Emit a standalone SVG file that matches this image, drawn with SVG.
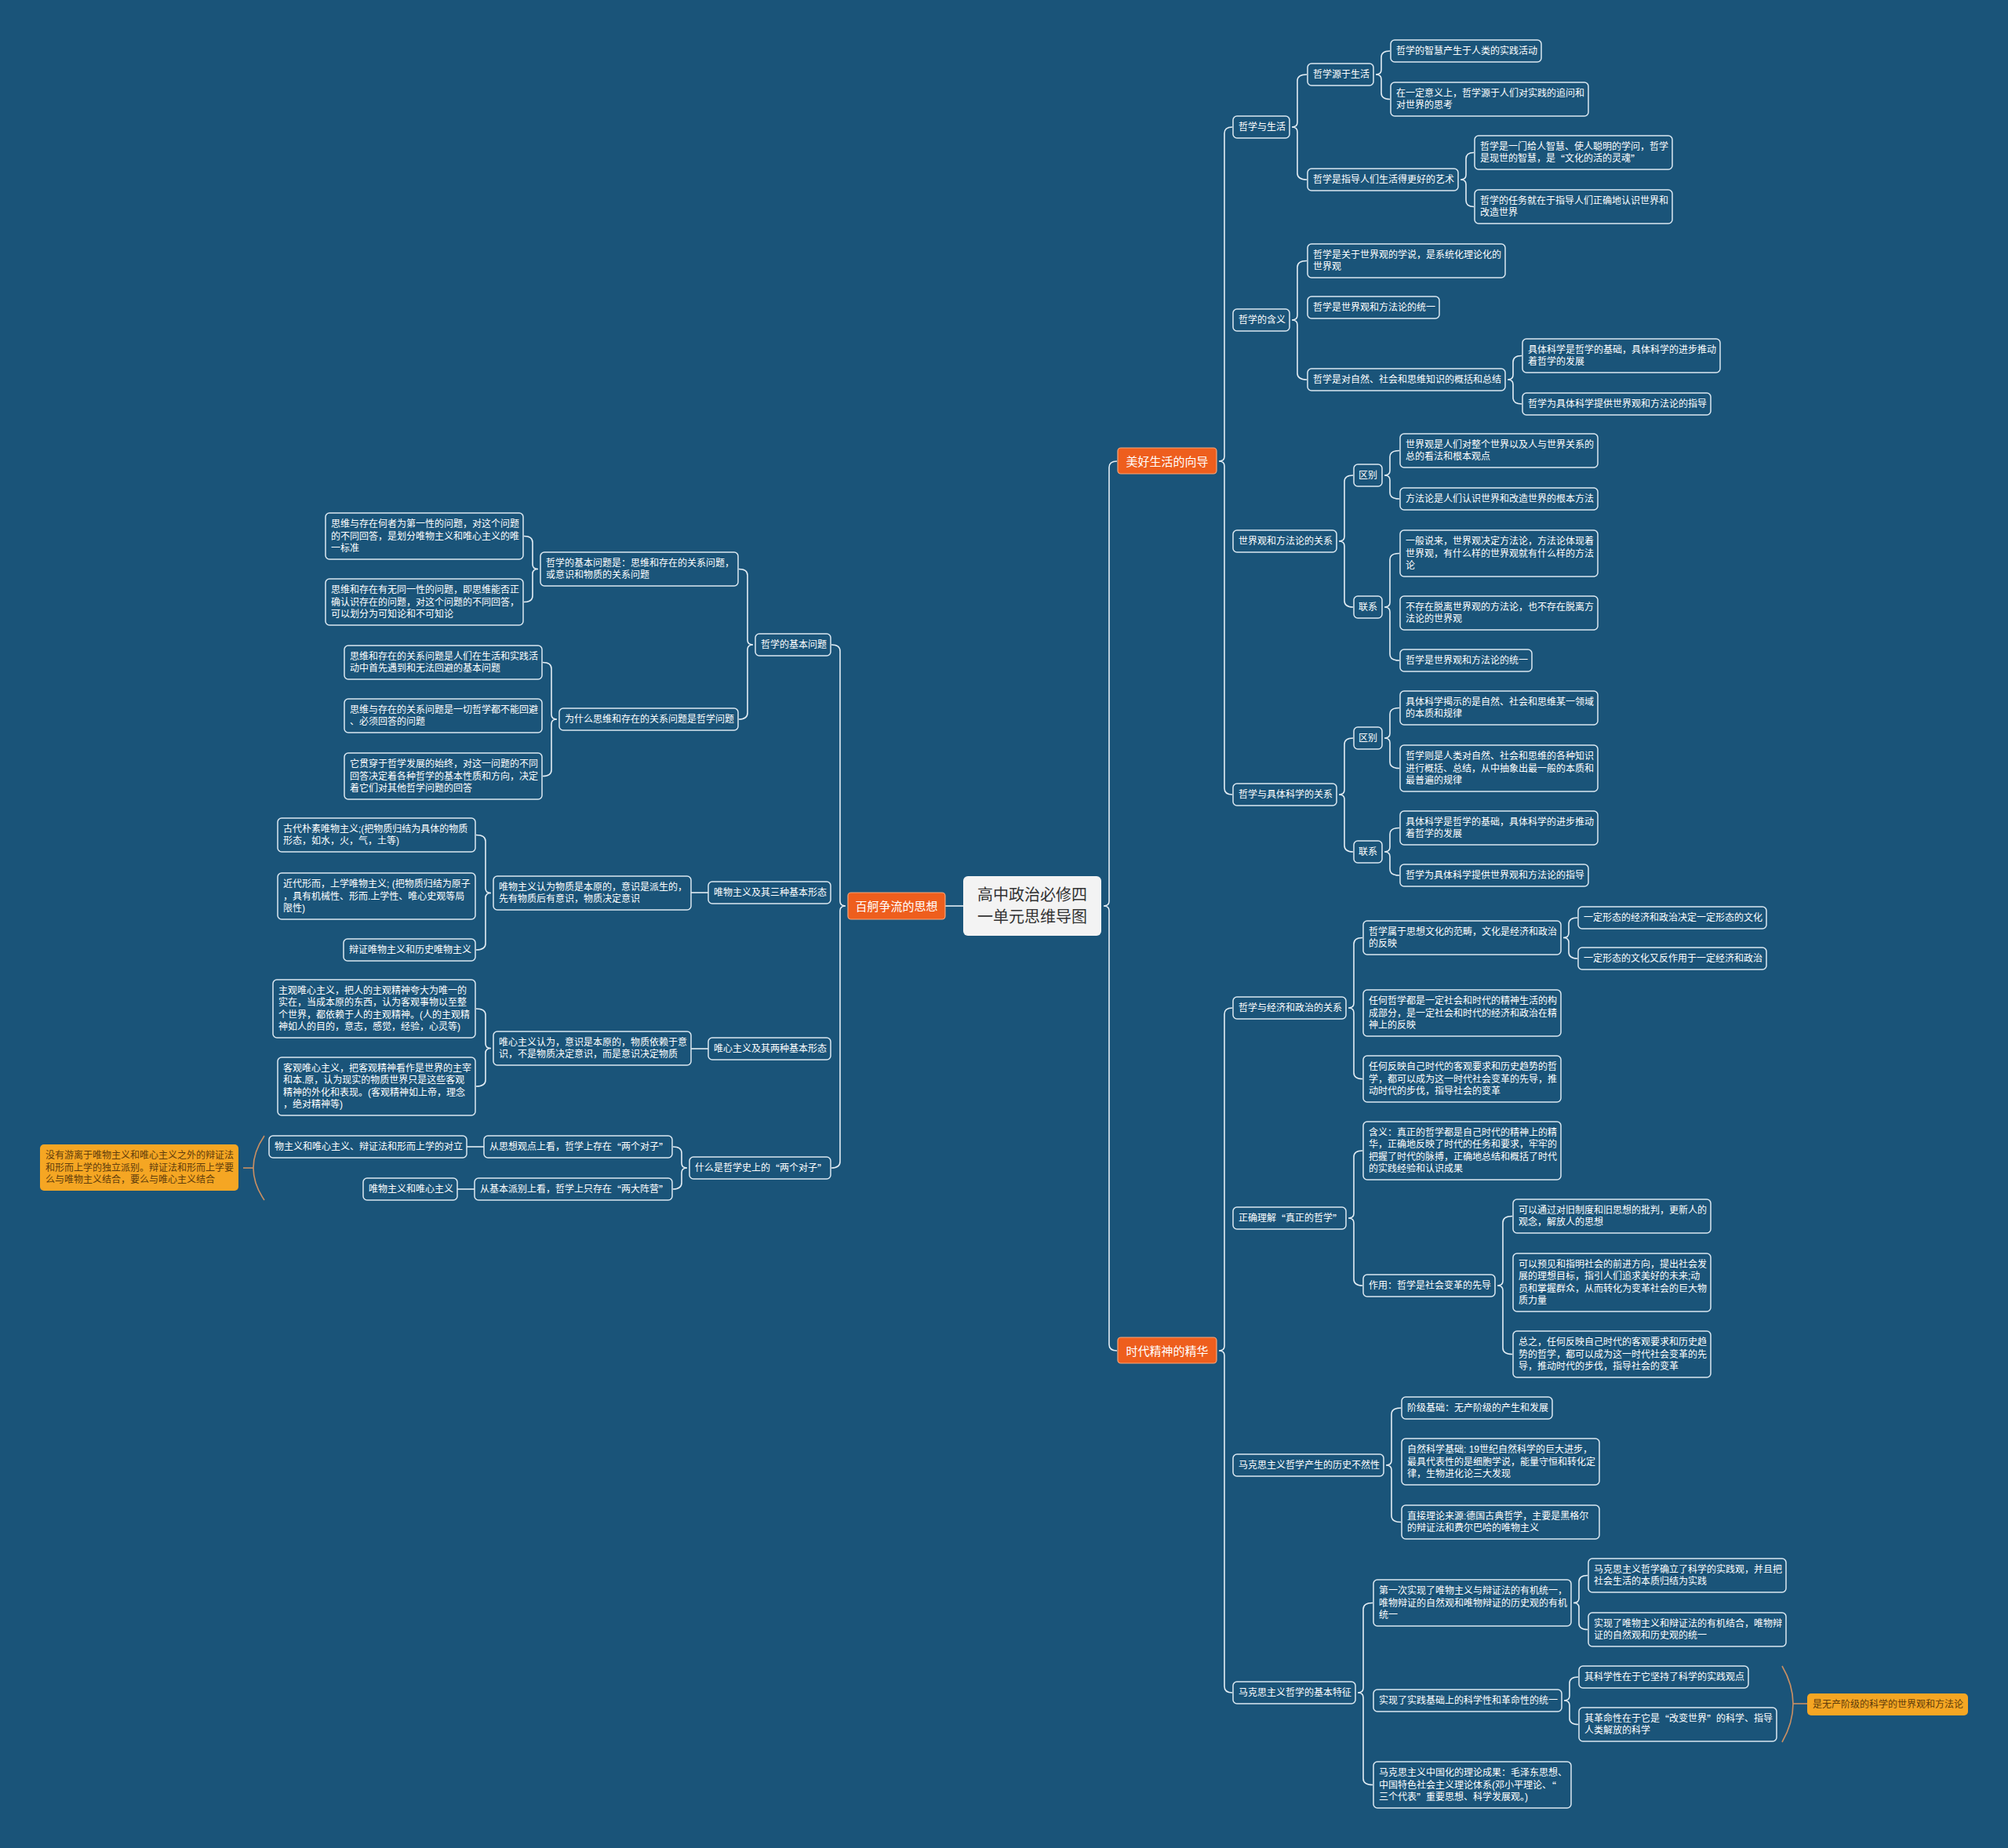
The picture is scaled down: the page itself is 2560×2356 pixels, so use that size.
<svg xmlns="http://www.w3.org/2000/svg" width="2560" height="2356" viewBox="0 0 2560 2356">
<style>
.n rect{fill:#1a5479;stroke:#dbe8f1;stroke-width:1.5}
text{font-family:"Liberation Sans","Noto Sans CJK SC",sans-serif;dominant-baseline:central}
.q{font-family:"Noto Sans CJK SC",sans-serif}
.n text{font-size:12px;fill:#ffffff}
.m rect{fill:#ee5e1d;stroke:#f7a77c;stroke-width:1.2}
.m text{font-size:15px;fill:#ffffff;text-anchor:middle}
.o rect{fill:#f5a623;stroke:none}
.o text{font-size:12px;fill:#5e3c0c}
.c path{fill:none;stroke:#e3edf4;stroke-width:1.6}
.b path{fill:none;stroke:#c98f63;stroke-width:1.6}
</style>
<rect x="0" y="0" width="2560" height="2356" fill="#1a5479"/>
<g id="connectors" class="c">
<path d="M1205,1155 L1228,1155"/>
<path d="M1424,588 Q1414,588 1414,596 L1414,1149 Q1414,1155 1407,1155 Q1414,1155 1414,1161 L1414,1714 Q1414,1722 1424,1722"/>
<path d="M1571,162 Q1561,162 1561,170 L1561,582 Q1561,588 1554,588 Q1561,588 1561,594 L1561,1005 Q1561,1013 1571,1013"/>
<path d="M1571,1285 Q1561,1285 1561,1293 L1561,1716 Q1561,1722 1554,1722 Q1561,1722 1561,1728 L1561,2150 Q1561,2158 1571,2158"/>
<path d="M1666,95 Q1654,95 1654,103 L1654,156 Q1654,162 1647,162 Q1654,162 1654,168 L1654,221 Q1654,229 1666,229"/>
<path d="M1772,65 Q1761,65 1761,73 L1761,89 Q1761,95 1754,95 Q1761,95 1761,101 L1761,118.5 Q1761,126.5 1772,126.5"/>
<path d="M1879,194.5 Q1869,194.5 1869,202.5 L1869,223 Q1869,229 1862,229 Q1869,229 1869,235 L1869,255.5 Q1869,263.5 1879,263.5"/>
<path d="M1666,332.5 Q1654,332.5 1654,340.5 L1654,402 Q1654,408 1647,408 Q1654,408 1654,414 L1654,476 Q1654,484 1666,484"/>
<path d="M1940,453.5 Q1929,453.5 1929,461.5 L1929,478 Q1929,484 1922,484 Q1929,484 1929,490 L1929,507 Q1929,515 1940,515"/>
<path d="M1725,606 Q1714,606 1714,614 L1714,684 Q1714,690 1707,690 Q1714,690 1714,696 L1714,766 Q1714,774 1725,774"/>
<path d="M1784,574.5 Q1772,574.5 1772,582.5 L1772,600 Q1772,606 1765,606 Q1772,606 1772,612 L1772,628 Q1772,636 1784,636"/>
<path d="M1784,705.5 Q1772,705.5 1772,713.5 L1772,768 Q1772,774 1765,774 Q1772,774 1772,780 L1772,834 Q1772,842 1784,842"/>
<path d="M1725,941 Q1714,941 1714,949 L1714,1007 Q1714,1013 1707,1013 Q1714,1013 1714,1019 L1714,1078 Q1714,1086 1725,1086"/>
<path d="M1784,902.5 Q1772,902.5 1772,910.5 L1772,935 Q1772,941 1765,941 Q1772,941 1772,947 L1772,971.5 Q1772,979.5 1784,979.5"/>
<path d="M1784,1055.5 Q1772,1055.5 1772,1063.5 L1772,1080 Q1772,1086 1765,1086 Q1772,1086 1772,1092 L1772,1108 Q1772,1116 1784,1116"/>
<path d="M1737,1195.5 Q1726,1195.5 1726,1203.5 L1726,1279 Q1726,1285 1719,1285 Q1726,1285 1726,1291 L1726,1367.5 Q1726,1375.5 1737,1375.5"/>
<path d="M2011,1170 Q2000,1170 2000,1178 L2000,1189.5 Q2000,1195.5 1993,1195.5 Q2000,1195.5 2000,1201.5 L2000,1214 Q2000,1222 2011,1222"/>
<path d="M1737,1467 Q1726,1467 1726,1475 L1726,1547 Q1726,1553 1719,1553 Q1726,1553 1726,1559 L1726,1631 Q1726,1639 1737,1639"/>
<path d="M1928,1550.5 Q1916,1550.5 1916,1558.5 L1916,1633 Q1916,1639 1909,1639 Q1916,1639 1916,1645 L1916,1718.5 Q1916,1726.5 1928,1726.5"/>
<path d="M1786,1795 Q1774,1795 1774,1803 L1774,1862 Q1774,1868 1767,1868 Q1774,1868 1774,1874 L1774,1932.5 Q1774,1940.5 1786,1940.5"/>
<path d="M1750,2043.5 Q1738,2043.5 1738,2051.5 L1738,2152 Q1738,2158 1731,2158 Q1738,2158 1738,2164 L1738,2267.5 Q1738,2275.5 1750,2275.5"/>
<path d="M2024,2008.5 Q2013,2008.5 2013,2016.5 L2013,2037.5 Q2013,2043.5 2006,2043.5 Q2013,2043.5 2013,2049.5 L2013,2069.5 Q2013,2077.5 2024,2077.5"/>
<path d="M2012,2138 Q2001,2138 2001,2146 L2001,2162 Q2001,2168 1994,2168 Q2001,2168 2001,2174 L2001,2190.5 Q2001,2198.5 2012,2198.5"/>
<path d="M1060,822 Q1071,822 1071,830 L1071,1149 Q1071,1155 1078,1155 Q1071,1155 1071,1161 L1071,1481 Q1071,1489 1060,1489"/>
<path d="M942,725.5 Q953,725.5 953,733.5 L953,816 Q953,822 960,822 Q953,822 953,828 L953,909 Q953,917 942,917"/>
<path d="M668,683.5 Q679,683.5 679,691.5 L679,719.5 Q679,725.5 686,725.5 Q679,725.5 679,731.5 L679,759.5 Q679,767.5 668,767.5"/>
<path d="M692,844.5 Q703,844.5 703,852.5 L703,911 Q703,917 710,917 Q703,917 703,923 L703,981.5 Q703,989.5 692,989.5"/>
<path d="M881,1138 L903,1138"/>
<path d="M607,1064.5 Q619,1064.5 619,1072.5 L619,1132.5 Q619,1138.5 626,1138.5 Q619,1138.5 619,1144.5 L619,1203 Q619,1211 607,1211"/>
<path d="M881,1337 L903,1337"/>
<path d="M607,1286 Q619,1286 619,1294 L619,1330.5 Q619,1336.5 626,1336.5 Q619,1336.5 619,1342.5 L619,1377 Q619,1385 607,1385"/>
<path d="M858,1462 Q869,1462 869,1470 L869,1483 Q869,1489 876,1489 Q869,1489 869,1495 L869,1508 Q869,1516 858,1516"/>
<path d="M595,1462 L617,1462"/>
<path d="M583,1516 L605,1516"/>
</g>
<g id="summary-brackets" class="b">
<path d="M337,1448 Q309,1489 337,1530"/>
<path d="M310,1489 L323,1489"/>
<path d="M2272,2124 Q2300,2172 2272,2221"/>
<path d="M2286,2172 L2304,2172"/>
</g>
<g id="center"><rect x="1228" y="1117" width="176" height="76" rx="6" fill="#f3f3f3"/><text x="1316" y="1141" font-size="20" fill="#333333" text-anchor="middle">高中政治必修四</text><text x="1316" y="1169" font-size="20" fill="#333333" text-anchor="middle">一单元思维导图</text></g>
<g id="m1" class="m"><rect x="1425" y="571" width="126" height="33" rx="4"/><text x="1488" y="588">美好生活的向导</text></g>
<g id="m2" class="m"><rect x="1425" y="1705" width="126" height="33" rx="4"/><text x="1488" y="1722">时代精神的精华</text></g>
<g id="m3" class="m"><rect x="1081" y="1138" width="124" height="34" rx="4"/><text x="1143" y="1155">百舸争流的思想</text></g>

<g id="a1" class="n"><rect x="1572" y="148" width="72" height="28" rx="5"/><text x="1579" y="162">哲学与生活</text></g>
<g id="a1a" class="n"><rect x="1667" y="81" width="84" height="28" rx="5"/><text x="1674" y="95">哲学源于生活</text></g>
<g id="a1a1" class="n"><rect x="1773" y="51" width="192" height="28" rx="5"/><text x="1780" y="65">哲学的智慧产生于人类的实践活动</text></g>
<g id="a1a2" class="n"><rect x="1773" y="105" width="252" height="43" rx="5"/><text x="1780"><tspan x="1780" y="118.75">在一定意义上，哲学源于人们对实践的追问和</tspan><tspan x="1780" y="134.25">对世界的思考</tspan></text></g>
<g id="a1b" class="n"><rect x="1667" y="215" width="192" height="28" rx="5"/><text x="1674" y="229">哲学是指导人们生活得更好的艺术</text></g>
<g id="a1b1" class="n"><rect x="1880" y="173" width="252" height="43" rx="5"/><text x="1887"><tspan x="1887" y="186.75">哲学是一门给人智慧、使人聪明的学问，哲学</tspan><tspan x="1887" y="202.25">是现世的智慧，是<tspan class="q">“</tspan>文化的活的灵魂<tspan class="q">”</tspan></tspan></text></g>
<g id="a1b2" class="n"><rect x="1880" y="242" width="252" height="43" rx="5"/><text x="1887"><tspan x="1887" y="255.75">哲学的任务就在于指导人们正确地认识世界和</tspan><tspan x="1887" y="271.25">改造世界</tspan></text></g>
<g id="a2" class="n"><rect x="1572" y="394" width="72" height="28" rx="5"/><text x="1579" y="408">哲学的含义</text></g>
<g id="a2a" class="n"><rect x="1667" y="311" width="252" height="43" rx="5"/><text x="1674"><tspan x="1674" y="324.75">哲学是关于世界观的学说，是系统化理论化的</tspan><tspan x="1674" y="340.25">世界观</tspan></text></g>
<g id="a2b" class="n"><rect x="1667" y="378" width="168" height="28" rx="5"/><text x="1674" y="392">哲学是世界观和方法论的统一</text></g>
<g id="a2c" class="n"><rect x="1667" y="470" width="252" height="28" rx="5"/><text x="1674" y="484">哲学是对自然、社会和思维知识的概括和总结</text></g>
<g id="a2c1" class="n"><rect x="1941" y="432" width="252" height="43" rx="5"/><text x="1948"><tspan x="1948" y="445.75">具体科学是哲学的基础，具体科学的进步推动</tspan><tspan x="1948" y="461.25">着哲学的发展</tspan></text></g>
<g id="a2c2" class="n"><rect x="1941" y="501" width="240" height="28" rx="5"/><text x="1948" y="515">哲学为具体科学提供世界观和方法论的指导</text></g>
<g id="a3" class="n"><rect x="1572" y="676" width="132" height="28" rx="5"/><text x="1579" y="690">世界观和方法论的关系</text></g>
<g id="a3a" class="n"><rect x="1726" y="592" width="36" height="28" rx="5"/><text x="1732" y="606">区别</text></g>
<g id="a3a1" class="n"><rect x="1785" y="553" width="252" height="43" rx="5"/><text x="1792"><tspan x="1792" y="566.75">世界观是人们对整个世界以及人与世界关系的</tspan><tspan x="1792" y="582.25">总的看法和根本观点</tspan></text></g>
<g id="a3a2" class="n"><rect x="1785" y="622" width="252" height="28" rx="5"/><text x="1792" y="636">方法论是人们认识世界和改造世界的根本方法</text></g>
<g id="a3b" class="n"><rect x="1726" y="760" width="36" height="28" rx="5"/><text x="1732" y="774">联系</text></g>
<g id="a3b1" class="n"><rect x="1785" y="676" width="252" height="59" rx="5"/><text x="1792"><tspan x="1792" y="690">一般说来，世界观决定方法论，方法论体现着</tspan><tspan x="1792" y="705.5">世界观，有什么样的世界观就有什么样的方法</tspan><tspan x="1792" y="721">论</tspan></text></g>
<g id="a3b2" class="n"><rect x="1785" y="760" width="252" height="43" rx="5"/><text x="1792"><tspan x="1792" y="773.75">不存在脱离世界观的方法论，也不存在脱离方</tspan><tspan x="1792" y="789.25">法论的世界观</tspan></text></g>
<g id="a3b3" class="n"><rect x="1785" y="828" width="168" height="28" rx="5"/><text x="1792" y="842">哲学是世界观和方法论的统一</text></g>
<g id="a4" class="n"><rect x="1572" y="999" width="132" height="28" rx="5"/><text x="1579" y="1013">哲学与具体科学的关系</text></g>
<g id="a4a" class="n"><rect x="1726" y="927" width="36" height="28" rx="5"/><text x="1732" y="941">区别</text></g>
<g id="a4a1" class="n"><rect x="1785" y="881" width="252" height="43" rx="5"/><text x="1792"><tspan x="1792" y="894.75">具体科学揭示的是自然、社会和思维某一领域</tspan><tspan x="1792" y="910.25">的本质和规律</tspan></text></g>
<g id="a4a2" class="n"><rect x="1785" y="950" width="252" height="59" rx="5"/><text x="1792"><tspan x="1792" y="964">哲学则是人类对自然、社会和思维的各种知识</tspan><tspan x="1792" y="979.5">进行概括、总结，从中抽象出最一般的本质和</tspan><tspan x="1792" y="995">最普遍的规律</tspan></text></g>
<g id="a4b" class="n"><rect x="1726" y="1072" width="36" height="28" rx="5"/><text x="1732" y="1086">联系</text></g>
<g id="a4b1" class="n"><rect x="1785" y="1034" width="252" height="43" rx="5"/><text x="1792"><tspan x="1792" y="1047.75">具体科学是哲学的基础，具体科学的进步推动</tspan><tspan x="1792" y="1063.25">着哲学的发展</tspan></text></g>
<g id="a4b2" class="n"><rect x="1785" y="1102" width="240" height="28" rx="5"/><text x="1792" y="1116">哲学为具体科学提供世界观和方法论的指导</text></g>

<g id="b1" class="n"><rect x="1572" y="1271" width="144" height="28" rx="5"/><text x="1579" y="1285">哲学与经济和政治的关系</text></g>
<g id="b1a" class="n"><rect x="1738" y="1174" width="252" height="43" rx="5"/><text x="1745"><tspan x="1745" y="1187.75">哲学属于思想文化的范畴，文化是经济和政治</tspan><tspan x="1745" y="1203.25">的反映</tspan></text></g>
<g id="b1a1" class="n"><rect x="2012" y="1156" width="240" height="28" rx="5"/><text x="2019" y="1170">一定形态的经济和政治决定一定形态的文化</text></g>
<g id="b1a2" class="n"><rect x="2012" y="1208" width="240" height="28" rx="5"/><text x="2019" y="1222">一定形态的文化又反作用于一定经济和政治</text></g>
<g id="b1b" class="n"><rect x="1738" y="1262" width="252" height="59" rx="5"/><text x="1745"><tspan x="1745" y="1276">任何哲学都是一定社会和时代的精神生活的构</tspan><tspan x="1745" y="1291.5">成部分，是一定社会和时代的经济和政治在精</tspan><tspan x="1745" y="1307">神上的反映</tspan></text></g>
<g id="b1c" class="n"><rect x="1738" y="1346" width="252" height="59" rx="5"/><text x="1745"><tspan x="1745" y="1360">任何反映自己时代的客观要求和历史趋势的哲</tspan><tspan x="1745" y="1375.5">学，都可以成为这一时代社会变革的先导，推</tspan><tspan x="1745" y="1391">动时代的步伐，指导社会的变革</tspan></text></g>
<g id="b2" class="n"><rect x="1572" y="1539" width="144" height="28" rx="5"/><text x="1579" y="1553">正确理解<tspan class="q">“</tspan>真正的哲学<tspan class="q">”</tspan></text></g>
<g id="b2a" class="n"><rect x="1738" y="1430" width="252" height="74" rx="5"/><text x="1745"><tspan x="1745" y="1443.75">含义：真正的哲学都是自己时代的精神上的精</tspan><tspan x="1745" y="1459.25">华，正确地反映了时代的任务和要求，牢牢的</tspan><tspan x="1745" y="1474.75">把握了时代的脉搏，正确地总结和概括了时代</tspan><tspan x="1745" y="1490.25">的实践经验和认识成果</tspan></text></g>
<g id="b2b" class="n"><rect x="1738" y="1625" width="168" height="28" rx="5"/><text x="1745" y="1639">作用：哲学是社会变革的先导</text></g>
<g id="b2b1" class="n"><rect x="1929" y="1529" width="252" height="43" rx="5"/><text x="1936"><tspan x="1936" y="1542.75">可以通过对旧制度和旧思想的批判，更新人的</tspan><tspan x="1936" y="1558.25">观念，解放人的思想</tspan></text></g>
<g id="b2b2" class="n"><rect x="1929" y="1598" width="252" height="74" rx="5"/><text x="1936"><tspan x="1936" y="1611.75">可以预见和指明社会的前进方向，提出社会发</tspan><tspan x="1936" y="1627.25">展的理想目标，指引人们追求美好的未来;动</tspan><tspan x="1936" y="1642.75">员和掌握群众，从而转化为变革社会的巨大物</tspan><tspan x="1936" y="1658.25">质力量</tspan></text></g>
<g id="b2b3" class="n"><rect x="1929" y="1697" width="252" height="59" rx="5"/><text x="1936"><tspan x="1936" y="1711">总之，任何反映自己时代的客观要求和历史趋</tspan><tspan x="1936" y="1726.5">势的哲学，都可以成为这一时代社会变革的先</tspan><tspan x="1936" y="1742">导，推动时代的步伐，指导社会的变革</tspan></text></g>
<g id="b3" class="n"><rect x="1572" y="1854" width="192" height="28" rx="5"/><text x="1579" y="1868">马克思主义哲学产生的历史不然性</text></g>
<g id="b3a" class="n"><rect x="1787" y="1781" width="192" height="28" rx="5"/><text x="1794" y="1795">阶级基础：无产阶级的产生和发展</text></g>
<g id="b3b" class="n"><rect x="1787" y="1834" width="252" height="59" rx="5"/><text x="1794"><tspan x="1794" y="1848">自然科学基础: 19世纪自然科学的巨大进步，</tspan><tspan x="1794" y="1863.5">最具代表性的是细胞学说，能量守恒和转化定</tspan><tspan x="1794" y="1879">律，生物进化论三大发现</tspan></text></g>
<g id="b3c" class="n"><rect x="1787" y="1919" width="252" height="43" rx="5"/><text x="1794"><tspan x="1794" y="1932.75">直接理论来源:德国古典哲学，主要是黑格尔</tspan><tspan x="1794" y="1948.25">的辩证法和费尔巴哈的唯物主义</tspan></text></g>
<g id="b4" class="n"><rect x="1572" y="2144" width="156" height="28" rx="5"/><text x="1579" y="2158">马克思主义哲学的基本特征</text></g>
<g id="b4a" class="n"><rect x="1751" y="2014" width="252" height="59" rx="5"/><text x="1758"><tspan x="1758" y="2028">第一次实现了唯物主义与辩证法的有机统一，</tspan><tspan x="1758" y="2043.5">唯物辩证的自然观和唯物辩证的历史观的有机</tspan><tspan x="1758" y="2059">统一</tspan></text></g>
<g id="b4a1" class="n"><rect x="2025" y="1987" width="252" height="43" rx="5"/><text x="2032"><tspan x="2032" y="2000.75">马克思主义哲学确立了科学的实践观，并且把</tspan><tspan x="2032" y="2016.25">社会生活的本质归结为实践</tspan></text></g>
<g id="b4a2" class="n"><rect x="2025" y="2056" width="252" height="43" rx="5"/><text x="2032"><tspan x="2032" y="2069.75">实现了唯物主义和辩证法的有机结合，唯物辩</tspan><tspan x="2032" y="2085.25">证的自然观和历史观的统一</tspan></text></g>
<g id="b4b" class="n"><rect x="1751" y="2154" width="240" height="28" rx="5"/><text x="1758" y="2168">实现了实践基础上的科学性和革命性的统一</text></g>
<g id="b4b1" class="n"><rect x="2013" y="2124" width="216" height="28" rx="5"/><text x="2020" y="2138">其科学性在于它坚持了科学的实践观点</text></g>
<g id="b4b2" class="n"><rect x="2013" y="2177" width="252" height="43" rx="5"/><text x="2020"><tspan x="2020" y="2190.75">其革命性在于它是<tspan class="q">“</tspan>改变世界<tspan class="q">”</tspan>的科学、指导</tspan><tspan x="2020" y="2206.25">人类解放的科学</tspan></text></g>
<g id="b4c" class="n"><rect x="1751" y="2246" width="252" height="59" rx="5"/><text x="1758"><tspan x="1758" y="2260">马克思主义中国化的理论成果：毛泽东思想、</tspan><tspan x="1758" y="2275.5">中国特色社会主义理论体系(邓小平理论、<tspan class="q">“</tspan></tspan><tspan x="1758" y="2291">三个代表<tspan class="q">”</tspan>重要思想、科学发展观。)</tspan></text></g>
<g id="b4note" class="o"><rect x="2304" y="2159" width="205" height="28" rx="5"/><text x="2311" y="2173">是无产阶级的科学的世界观和方法论</text></g>

<g id="c1" class="n"><rect x="963" y="808" width="96" height="28" rx="5"/><text x="970" y="822">哲学的基本问题</text></g>
<g id="c1a" class="n"><rect x="689" y="704" width="252" height="43" rx="5"/><text x="696"><tspan x="696" y="717.75">哲学的基本问题是：思维和存在的关系问题，</tspan><tspan x="696" y="733.25">或意识和物质的关系问题</tspan></text></g>
<g id="c1a1" class="n"><rect x="415" y="654" width="252" height="59" rx="5"/><text x="422"><tspan x="422" y="668">思维与存在何者为第一性的问题，对这个问题</tspan><tspan x="422" y="683.5">的不同回答，是划分唯物主义和唯心主义的唯</tspan><tspan x="422" y="699">一标准</tspan></text></g>
<g id="c1a2" class="n"><rect x="415" y="738" width="252" height="59" rx="5"/><text x="422"><tspan x="422" y="752">思维和存在有无同一性的问题，即思维能否正</tspan><tspan x="422" y="767.5">确认识存在的问题，对这个问题的不同回答，</tspan><tspan x="422" y="783">可以划分为可知论和不可知论</tspan></text></g>
<g id="c1b" class="n"><rect x="713" y="903" width="228" height="28" rx="5"/><text x="720" y="917">为什么思维和存在的关系问题是哲学问题</text></g>
<g id="c1b1" class="n"><rect x="439" y="823" width="252" height="43" rx="5"/><text x="446"><tspan x="446" y="836.75">思维和存在的关系问题是人们在生活和实践活</tspan><tspan x="446" y="852.25">动中首先遇到和无法回避的基本问题</tspan></text></g>
<g id="c1b2" class="n"><rect x="439" y="891" width="252" height="43" rx="5"/><text x="446"><tspan x="446" y="904.75">思维与存在的关系问题是一切哲学都不能回避</tspan><tspan x="446" y="920.25">、必须回答的问题</tspan></text></g>
<g id="c1b3" class="n"><rect x="439" y="960" width="252" height="59" rx="5"/><text x="446"><tspan x="446" y="974">它贯穿于哲学发展的始终，对这一问题的不同</tspan><tspan x="446" y="989.5">回答决定着各种哲学的基本性质和方向，决定</tspan><tspan x="446" y="1005">着它们对其他哲学问题的回答</tspan></text></g>
<g id="c2" class="n"><rect x="903" y="1124" width="156" height="28" rx="5"/><text x="910" y="1138">唯物主义及其三种基本形态</text></g>
<g id="c2a" class="n"><rect x="629" y="1117" width="252" height="43" rx="5"/><text x="636"><tspan x="636" y="1130.75">唯物主义认为物质是本原的，意识是派生的，</tspan><tspan x="636" y="1146.25">先有物质后有意识，物质决定意识</tspan></text></g>
<g id="c2a1" class="n"><rect x="354" y="1043" width="252" height="43" rx="5"/><text x="361"><tspan x="361" y="1056.75">古代朴素唯物主义;(把物质归结为具体的物质</tspan><tspan x="361" y="1072.25">形态，如水，火，气，土等)</tspan></text></g>
<g id="c2a2" class="n"><rect x="354" y="1113" width="252" height="59" rx="5"/><text x="361"><tspan x="361" y="1127">近代形而，上学唯物主义; (把物质归结为原子</tspan><tspan x="361" y="1142.5">，具有机械性、形而.上学性、唯心史观等局</tspan><tspan x="361" y="1158">限性)</tspan></text></g>
<g id="c2a3" class="n"><rect x="438" y="1197" width="168" height="28" rx="5"/><text x="445" y="1211">辩证唯物主义和历史唯物主义</text></g>
<g id="c3" class="n"><rect x="903" y="1323" width="156" height="28" rx="5"/><text x="910" y="1337">唯心主义及其两种基本形态</text></g>
<g id="c3a" class="n"><rect x="629" y="1315" width="252" height="43" rx="5"/><text x="636"><tspan x="636" y="1328.75">唯心主义认为，意识是本原的，物质依赖于意</tspan><tspan x="636" y="1344.25">识，不是物质决定意识，而是意识决定物质</tspan></text></g>
<g id="c3a1" class="n"><rect x="348" y="1249" width="258" height="74" rx="5"/><text x="355"><tspan x="355" y="1262.75">主观唯心主义，把人的主观精神夸大为唯一的</tspan><tspan x="355" y="1278.25">实在，当成本原的东西，认为客观事物以至整</tspan><tspan x="355" y="1293.75">个世界，都依赖于人的主观精神。(人的主观精</tspan><tspan x="355" y="1309.25">神如人的目的，意志，感觉，经验，心灵等)</tspan></text></g>
<g id="c3a2" class="n"><rect x="354" y="1348" width="252" height="74" rx="5"/><text x="361"><tspan x="361" y="1361.75">客观唯心主义，把客观精神看作是世界的主宰</tspan><tspan x="361" y="1377.25">和本.原，认为现实的物质世界只是这些客观</tspan><tspan x="361" y="1392.75">精神的外化和表现。(客观精神如上帝，理念</tspan><tspan x="361" y="1408.25">，绝对精神等)</tspan></text></g>
<g id="c4" class="n"><rect x="879" y="1475" width="180" height="28" rx="5"/><text x="886" y="1489">什么是哲学史上的<tspan class="q">“</tspan>两个对子<tspan class="q">”</tspan></text></g>
<g id="c4a" class="n"><rect x="617" y="1448" width="240" height="28" rx="5"/><text x="624" y="1462">从思想观点上看，哲学上存在<tspan class="q">“</tspan>两个对子<tspan class="q">”</tspan></text></g>
<g id="c4a1" class="n"><rect x="343" y="1448" width="252" height="28" rx="5"/><text x="350" y="1462">物主义和唯心主义、辩证法和形而上学的对立</text></g>
<g id="c4b" class="n"><rect x="605" y="1502" width="252" height="28" rx="5"/><text x="612" y="1516">从基本派别上看，哲学上只存在<tspan class="q">“</tspan>两大阵营<tspan class="q">”</tspan></text></g>
<g id="c4b1" class="n"><rect x="463" y="1502" width="120" height="28" rx="5"/><text x="470" y="1516">唯物主义和唯心主义</text></g>
<g id="c4note" class="o"><rect x="51" y="1459" width="253" height="59" rx="5"/><text x="58"><tspan x="58" y="1473">没有游离于唯物主义和唯心主义之外的辩证法</tspan><tspan x="58" y="1488.5">和形而上学的独立派别。辩证法和形而上学要</tspan><tspan x="58" y="1504">么与唯物主义结合，要么与唯心主义结合</tspan></text></g>
</svg>
